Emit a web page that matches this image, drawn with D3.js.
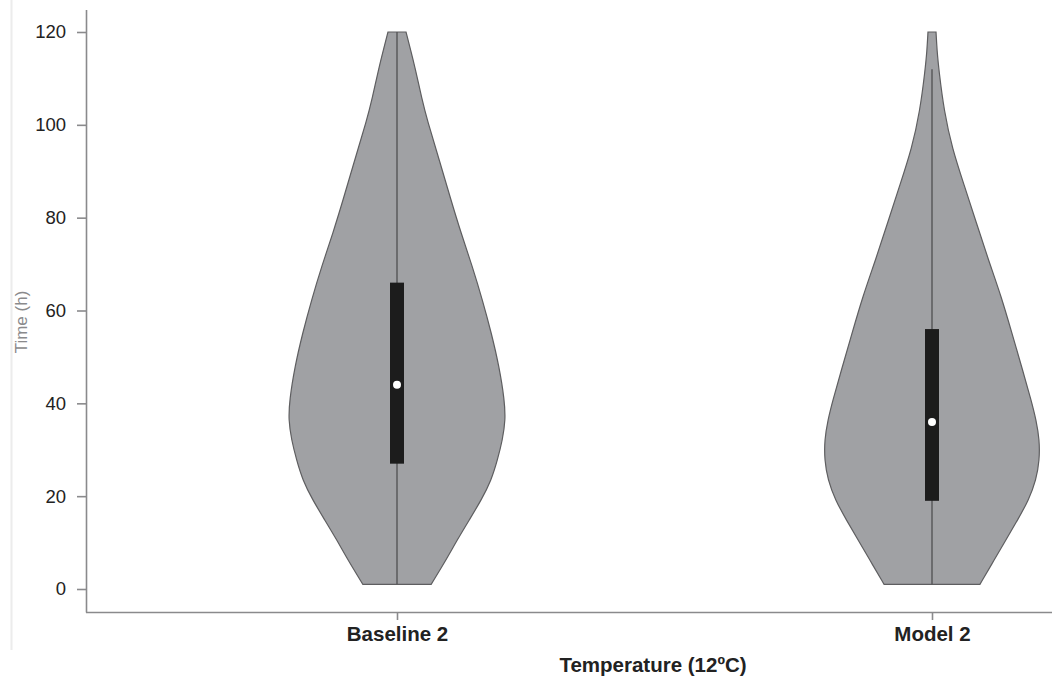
<!DOCTYPE html>
<html>
<head>
<meta charset="utf-8">
<script src="https://cdn.jsdelivr.net/npm/d3@7"></script>
<style>
  html, body { margin: 0; padding: 0; background: #fff; }
  svg { display: block; font-family: "Liberation Sans", Arial, sans-serif; }
</style>
</head>
<body>
<svg id="chart" width="1052" height="677"></svg>
<script>
// ---- data ----
const categories = ["Baseline 2", "Model 2"];
const yTicks = [0, 20, 40, 60, 80, 100, 120];

// violin outlines: time (h) and relative density
const baselineTimes   = [1, 6.3, 10.6, 14.9, 19.2, 23.5, 27.8, 32.1, 36.4, 40.7, 47.9, 55.1, 62.3, 69.5, 76.7, 83.8, 92.5, 101.1, 105.4, 112.6, 116, 120];
const baselineDensity = [34, 49, 60, 72, 84, 94, 100, 105, 108, 107, 101.7, 94, 85, 75, 63.7, 53.7, 42, 30, 25, 17.7, 13.7, 9];

const modelTimes   = [1, 6.3, 10.6, 14.9, 19.2, 23.5, 27.8, 32.1, 36.4, 40.7, 47.3, 54.8, 63, 71, 79, 87, 95, 103, 111.5, 116, 120];
const modelDensity = [47.7, 62, 73.7, 85.3, 96.3, 103.7, 107, 107, 103.7, 98.7, 90, 80, 69, 56, 44, 32, 20, 12, 7, 5, 4];

// box summaries: [whiskerLow, q1, median, q3, whiskerHigh]
const baselineBox = [1, 27, 44, 66, 120];
const modelBox    = [1, 19, 36, 56, 112];

// ---- build ----
const series = [
  { name: categories[0], times: baselineTimes, dens: baselineDensity, box: baselineBox },
  { name: categories[1], times: modelTimes, dens: modelDensity, box: modelBox }
];

const svg = d3.select("#chart");

const y = d3.scaleLinear().domain([0, 120]).range([589, 32]);
const x = d3.scalePoint().domain(categories).range([397, 932]);
const maxD = d3.max(series, s => d3.max(s.dens));
const w = d3.scaleLinear().domain([0, maxD]).range([0, 108.5]);

// faint left border
svg.append("line").attr("x1", 11.5).attr("x2", 11.5).attr("y1", 0).attr("y2", 650)
  .attr("stroke", "#ececec").attr("stroke-width", 2);

// violins
series.forEach(s => {
  const cx = x(s.name);
  const pts = s.times.map((t, i) => ({ t, d: s.dens[i] }));
  const area = d3.area()
    .y(d => y(d.t))
    .x0(d => cx - w(d.d))
    .x1(d => cx + w(d.d))
    .curve(d3.curveBasis);
  svg.append("path").attr("d", area(pts))
    .attr("fill", "#a0a1a4").attr("stroke", "#5e5e60").attr("stroke-width", 1.2);

  const [lo, q1, med, q3, hi] = s.box;
  svg.append("line").attr("x1", cx).attr("x2", cx).attr("y1", y(lo)).attr("y2", y(hi))
    .attr("stroke", "#555557").attr("stroke-width", 1.4);
  svg.append("rect").attr("x", cx - 7).attr("width", 14)
    .attr("y", y(q3)).attr("height", y(q1) - y(q3)).attr("fill", "#1c1c1c");
  svg.append("circle").attr("cx", cx).attr("cy", y(med)).attr("r", 4).attr("fill", "#fff");
});

// y axis
const yAxis = svg.append("g").attr("transform", "translate(86,0)")
  .call(d3.axisLeft(y).tickValues(yTicks).tickSize(9).tickPadding(11));
yAxis.select(".domain").attr("d", "M0.5,10V612.5");
yAxis.selectAll(".domain, .tick line").attr("stroke", "#8a8a8c").attr("stroke-width", 1.6);
yAxis.selectAll(".tick text").attr("font-size", 18.5).attr("fill", "#222")
  .attr("font-family", "Liberation Sans, Arial, sans-serif");

// x axis
const xAxis = svg.append("g").attr("transform", "translate(0,612)")
  .call(d3.axisBottom(x).tickSize(8).tickPadding(6));
xAxis.select(".domain").attr("d", "M86,0.5H1052");
xAxis.selectAll(".domain, .tick line").attr("stroke", "#8a8a8c").attr("stroke-width", 1.6);
xAxis.selectAll(".tick text").attr("font-size", 20.5).attr("font-weight", "bold").attr("fill", "#222")
  .attr("font-family", "Liberation Sans, Arial, sans-serif");

// axis titles
svg.append("text").attr("x", 653).attr("y", 672).attr("text-anchor", "middle")
  .attr("font-size", 20.5).attr("font-weight", "bold").attr("fill", "#222")
  .text("Temperature (12ºC)");
svg.append("text").attr("transform", "translate(27,322) rotate(-90)").attr("text-anchor", "middle")
  .attr("font-size", 17).attr("fill", "#8a8a8c")
  .text("Time (h)");
</script>
</body>
</html>
